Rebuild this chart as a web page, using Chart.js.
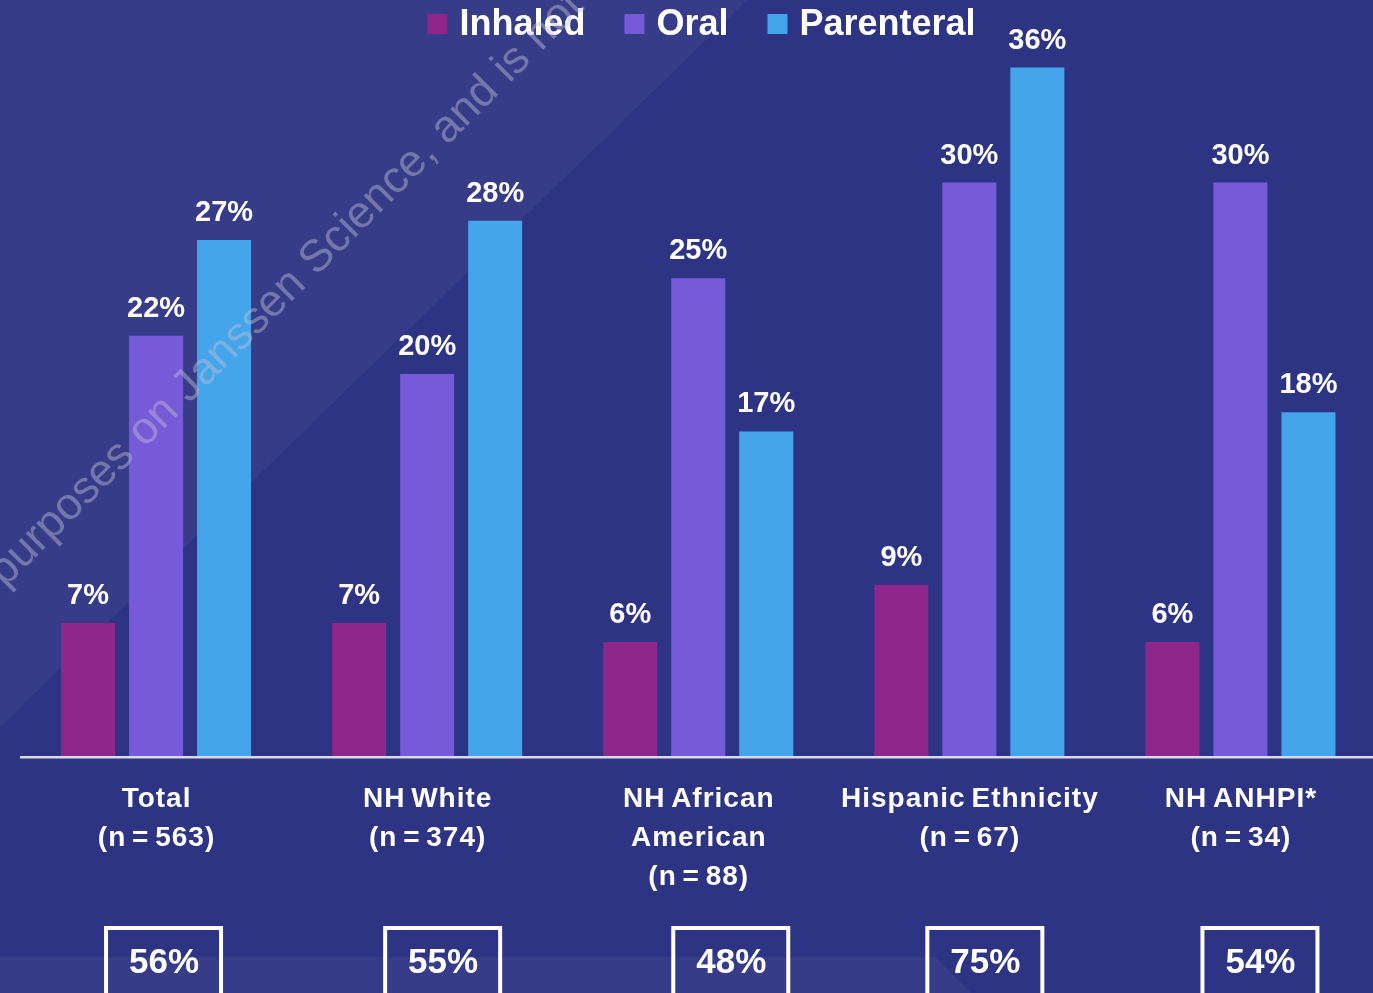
<!DOCTYPE html>
<html>
<head>
<meta charset="utf-8">
<script src="https://cdn.jsdelivr.net/npm/chart.js@4.4.1/dist/chart.umd.min.js"></script>
<style>
  html, body { margin: 0; padding: 0; background: #2E3484; overflow: hidden; }
  #wrap { position: relative; width: 1376px; height: 993px; }
  canvas { display: block; }
</style>
</head>
<body>
<div id="wrap"><canvas id="chart" width="1376" height="993"></canvas></div>
<script>
// Route of administration by group (% of respondents)
const categories = [
  ["Total", "(n = 563)"],
  ["NH White", "(n = 374)"],
  ["NH African", "American", "(n = 88)"],
  ["Hispanic Ethnicity", "(n = 67)"],
  ["NH ANHPI*", "(n = 34)"]
];
const seriesNames = ["Inhaled", "Oral", "Parenteral"];
const inhaled    = [7, 7, 6, 9, 6];
const oral       = [22, 20, 25, 30, 30];
const parenteral = [27, 28, 17, 36, 18];
const overall    = [56, 55, 48, 75, 54];

const COLORS = ["#8E278B", "#765BD8", "#45A5EB"];
const FONT = '"Liberation Sans", Arial, sans-serif';
const BG_DARK = "#2E3484";
const BG_LIGHT = "#363C88";

// horizontal nudge of the boxed totals relative to each group centre
const boxShift = [7, 15, 32, 15, 19];

const decor = {
  id: "decor",
  beforeDraw(chart) {
    const { ctx, width, height } = chart;
    ctx.save();
    ctx.fillStyle = BG_DARK;
    ctx.fillRect(0, 0, width, height);
    ctx.fillStyle = BG_LIGHT;
    ctx.beginPath();
    ctx.moveTo(0, 0); ctx.lineTo(747, 0); ctx.lineTo(0, 727); ctx.closePath();
    ctx.fill();
    ctx.beginPath();
    ctx.moveTo(0, 957); ctx.lineTo(935, 957); ctx.lineTo(975, 997); ctx.lineTo(0, 997); ctx.closePath();
    ctx.fill();
    ctx.restore();
  },
  afterDatasetsDraw(chart) {
    const { ctx } = chart;
    const xs = chart.scales.x;
    const axisY = chart.chartArea.bottom;
    ctx.save();

    // baseline
    ctx.fillStyle = "#D9D9E2";
    ctx.fillRect(20, axisY - 1, 1356, 2.5);

    // value labels above bars
    ctx.fillStyle = "#FFFFFF";
    ctx.textAlign = "center";
    ctx.textBaseline = "alphabetic";
    ctx.font = `bold 29px ${FONT}`;
    chart.data.datasets.forEach((ds, di) => {
      chart.getDatasetMeta(di).data.forEach((bar, i) => {
        ctx.fillText(ds.data[i] + "%", bar.x, bar.y - 19);
      });
    });

    // category labels
    ctx.font = `bold 28px ${FONT}`;
    ctx.letterSpacing = "1px";
    ctx.wordSpacing = "-3px";
    categories.forEach((lines, i) => {
      const cx = xs.getPixelForValue(i);
      lines.forEach((t, k) => ctx.fillText(t, cx + 0.5, axisY + 50 + k * 39));
    });
    ctx.letterSpacing = "0px";
    ctx.wordSpacing = "0px";

    // boxed overall percentages
    overall.forEach((v, i) => {
      const cx = xs.getPixelForValue(i) + boxShift[i];
      ctx.strokeStyle = "#FFFFFF";
      ctx.lineWidth = 4;
      ctx.strokeRect(cx - 57, axisY + 171, 115, 80);
      ctx.font = `bold 35px ${FONT}`;
      ctx.fillText(v + "%", cx + 1, axisY + 216);
    });

    // legend
    ctx.font = `bold 36px ${FONT}`;
    ctx.textAlign = "left";
    const widths = seriesNames.map(n => ctx.measureText(n).width);
    const total = widths.reduce((a, w) => a + 20 + 12 + w, 0) + 39 * (seriesNames.length - 1);
    let x = 701.5 - total / 2;
    seriesNames.forEach((n, i) => {
      ctx.fillStyle = COLORS[i];
      ctx.fillRect(x, 14, 20, 20);
      ctx.fillStyle = "#FFFFFF";
      ctx.fillText(n, x + 32, 35);
      x += 32 + widths[i] + 39;
    });
    ctx.restore();
  },
  afterDraw(chart) {
    const { ctx } = chart;
    ctx.save();
    ctx.translate(5, 588);
    ctx.rotate(-Math.PI / 4);
    ctx.font = `45px ${FONT}`;
    ctx.fillStyle = "rgba(190,190,212,0.45)";
    ctx.textAlign = "left";
    ctx.textBaseline = "alphabetic";
    ctx.fillText("purposes on Janssen Science, and is not", 0, 0);
    ctx.restore();
  }
};

new Chart(document.getElementById("chart"), {
  type: "bar",
  data: {
    labels: categories,
    datasets: [
      { label: seriesNames[0], data: inhaled,    backgroundColor: COLORS[0] },
      { label: seriesNames[1], data: oral,       backgroundColor: COLORS[1] },
      { label: seriesNames[2], data: parenteral, backgroundColor: COLORS[2] }
    ]
  },
  options: {
    responsive: false,
    animation: false,
    devicePixelRatio: 1,
    layout: { padding: { left: 20.5, right: 0, top: 29.3, bottom: 236 } },
    datasets: { bar: { categoryPercentage: 0.7525, barPercentage: 0.794, borderWidth: 0 } },
    plugins: { legend: { display: false }, tooltip: { enabled: false } },
    scales: {
      x: { display: false },
      y: { display: false, min: 0, max: 38 }
    }
  },
  plugins: [decor]
});
</script>
</body>
</html>
